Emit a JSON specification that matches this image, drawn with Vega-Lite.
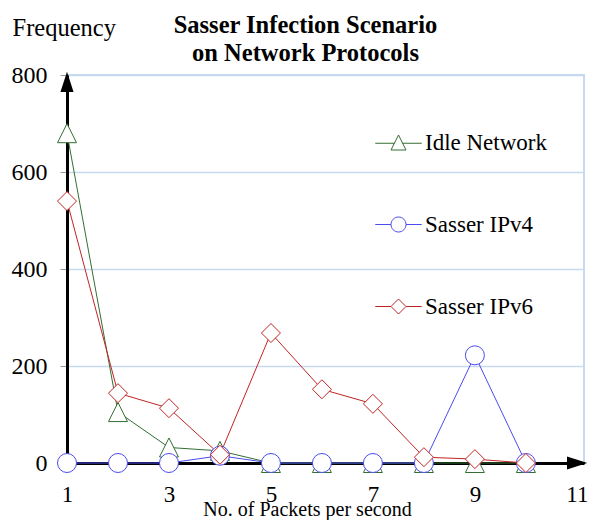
{
  "$schema": "https://vega.github.io/schema/vega-lite/v6.json",
  "width": 517,
  "height": 388,
  "autosize": "none",
  "padding": {"left": 67, "top": 75, "right": 11, "bottom": 57},
  "background": "white",
  "title": {
    "text": ["Sasser Infection Scenario", "on Network Protocols"],
    "font": "Liberation Serif",
    "fontSize": 24.5,
    "fontWeight": "bold",
    "color": "black",
    "anchor": "middle",
    "dx": -20,
    "dy": 59,
    "lineHeight": 28,
    "offset": 8
  },
  "config": {
    "view": {"stroke": "#c6d9f0", "strokeWidth": 2},
    "font": "Liberation Serif",
    "legend": {
      "title": null,
      "orient": "none",
      "legendX": 320,
      "legendY": 56,
      "labelFont": "Liberation Serif",
      "labelFontSize": 23,
      "labelColor": "black",
      "labelOffset": 15,
      "rowPadding": 58,
      "symbolSize": 225,
      "symbolStrokeWidth": 1,
      "symbolFillColor": "white",
      "padding": 0
    }
  },
  "data": {
    "values": [
      {"x": 1, "y": 680, "s": "Idle Network"},
      {"x": 2, "y": 105, "s": "Idle Network"},
      {"x": 3, "y": 32, "s": "Idle Network"},
      {"x": 4, "y": 25, "s": "Idle Network"},
      {"x": 5, "y": 0, "s": "Idle Network"},
      {"x": 6, "y": 0, "s": "Idle Network"},
      {"x": 7, "y": 0, "s": "Idle Network"},
      {"x": 8, "y": 0, "s": "Idle Network"},
      {"x": 9, "y": 0, "s": "Idle Network"},
      {"x": 10, "y": 0, "s": "Idle Network"},
      {"x": 1, "y": 0, "s": "Sasser IPv4"},
      {"x": 2, "y": 0, "s": "Sasser IPv4"},
      {"x": 3, "y": 0, "s": "Sasser IPv4"},
      {"x": 4, "y": 15, "s": "Sasser IPv4"},
      {"x": 5, "y": 0, "s": "Sasser IPv4"},
      {"x": 6, "y": 0, "s": "Sasser IPv4"},
      {"x": 7, "y": 0, "s": "Sasser IPv4"},
      {"x": 8, "y": 0, "s": "Sasser IPv4"},
      {"x": 9, "y": 222, "s": "Sasser IPv4"},
      {"x": 10, "y": 0, "s": "Sasser IPv4"},
      {"x": 1, "y": 540, "s": "Sasser IPv6"},
      {"x": 2, "y": 144, "s": "Sasser IPv6"},
      {"x": 3, "y": 113, "s": "Sasser IPv6"},
      {"x": 4, "y": 17, "s": "Sasser IPv6"},
      {"x": 5, "y": 268, "s": "Sasser IPv6"},
      {"x": 6, "y": 152, "s": "Sasser IPv6"},
      {"x": 7, "y": 122, "s": "Sasser IPv6"},
      {"x": 8, "y": 12, "s": "Sasser IPv6"},
      {"x": 9, "y": 8, "s": "Sasser IPv6"},
      {"x": 10, "y": 0, "s": "Sasser IPv6"}
    ]
  },
  "encoding": {
    "x": {
      "field": "x",
      "type": "quantitative",
      "scale": {"domain": [1, 11.14], "nice": false, "zero": false},
      "axis": {
        "values": [1, 3, 5, 7, 9, 11],
        "grid": false,
        "ticks": false,
        "labelFlush": false,
        "domainColor": "black",
        "domainWidth": 3,
        "labelFont": "Liberation Serif",
        "labelFontSize": 23,
        "labelColor": "black",
        "labelPadding": 20,
        "title": "No. of Packets per second",
        "titleFont": "Liberation Serif",
        "titleFontSize": 20,
        "titleFontWeight": "normal",
        "titleColor": "black",
        "titleX": 240,
        "titleY": 52,
        "titleBaseline": "alphabetic",
        "titleAnchor": null,
        "titleAlign": "center"
      }
    },
    "y": {
      "field": "y",
      "type": "quantitative",
      "scale": {"domain": [0, 800], "nice": false},
      "axis": {
        "values": [0, 200, 400, 600, 800],
        "gridColor": "#c6d9f0",
        "gridWidth": 1.5,
        "tickColor": "#999999",
        "tickSize": 7,
        "domainColor": "black",
        "domainWidth": 3,
        "labelFont": "Liberation Serif",
        "labelFontSize": 24,
        "labelColor": "black",
        "labelPadding": 13,
        "title": "Frequency",
        "titleFont": "Liberation Serif",
        "titleFontSize": 24.5,
        "titleFontWeight": "normal",
        "titleColor": "black",
        "titleAngle": 0,
        "titleAlign": "left",
        "titleBaseline": "alphabetic",
        "titleX": -55,
        "titleY": -40
      }
    },
    "stroke": {
      "field": "s",
      "type": "nominal",
      "scale": {"domain": ["Idle Network", "Sasser IPv4", "Sasser IPv6"], "range": ["#336e33", "#4b4bee", "#c02424"]},
      "legend": {
        "encode": {
          "symbols": {
            "update": {
              "shape": {"signal": "datum.value == 'Idle Network' ? 'M-3.1,0.1H-0.55M0.55,0.1H3.1M0,-1L1,1L-1,1Z' : datum.value == 'Sasser IPv4' ? 'M-3.1,0H-1M1,0H3.1M1,0A1,1 0 1,1 -1,0A1,1 0 1,1 1,0Z' : 'M-3.1,0H-1M1,0H3.1M0,-1L1,0L0,1L-1,0Z'"},
              "fill": {"value": "white"},
              "strokeWidth": {"value": 1}
            }
          }
        }
      }
    }
  },
  "layer": [
    {
      "mark": {"type": "line", "strokeWidth": 1}
    },
    {
      "transform": [{"filter": "datum.s == 'Idle Network'"}],
      "mark": {"type": "point", "filled": true, "fill": "white", "strokeWidth": 1, "size": 361, "opacity": 1, "shape": "M0,-1L1,1L-1,1Z"}
    },
    {
      "transform": [{"filter": "datum.s == 'Sasser IPv4'"}],
      "mark": {"type": "point", "filled": true, "fill": "white", "strokeWidth": 1, "size": 361, "opacity": 1, "shape": "circle"}
    },
    {
      "transform": [{"filter": "datum.s == 'Sasser IPv6'"}],
      "mark": {"type": "point", "filled": true, "fill": "white", "strokeWidth": 1, "size": 361, "opacity": 1, "shape": "M0,-1L1,0L0,1L-1,0Z"}
    },
    {
      "data": {"values": [{"ax": 1, "ay": 800}]},
      "mark": {"type": "point", "filled": true, "color": "black", "opacity": 1, "size": 256, "shape": "M0,0L-0.65,2L0.65,2Z"},
      "encoding": {
        "x": {"field": "ax", "type": "quantitative"},
        "y": {"field": "ay", "type": "quantitative"},
        "stroke": {"value": "black"}
      }
    },
    {
      "data": {"values": [{"ax": 11.14, "ay": 0}]},
      "mark": {"type": "point", "filled": true, "color": "black", "opacity": 1, "size": 256, "shape": "M0,0L-2,-0.65L-2,0.65Z"},
      "encoding": {
        "x": {"field": "ax", "type": "quantitative"},
        "y": {"field": "ay", "type": "quantitative"},
        "stroke": {"value": "black"}
      }
    }
  ]
}
